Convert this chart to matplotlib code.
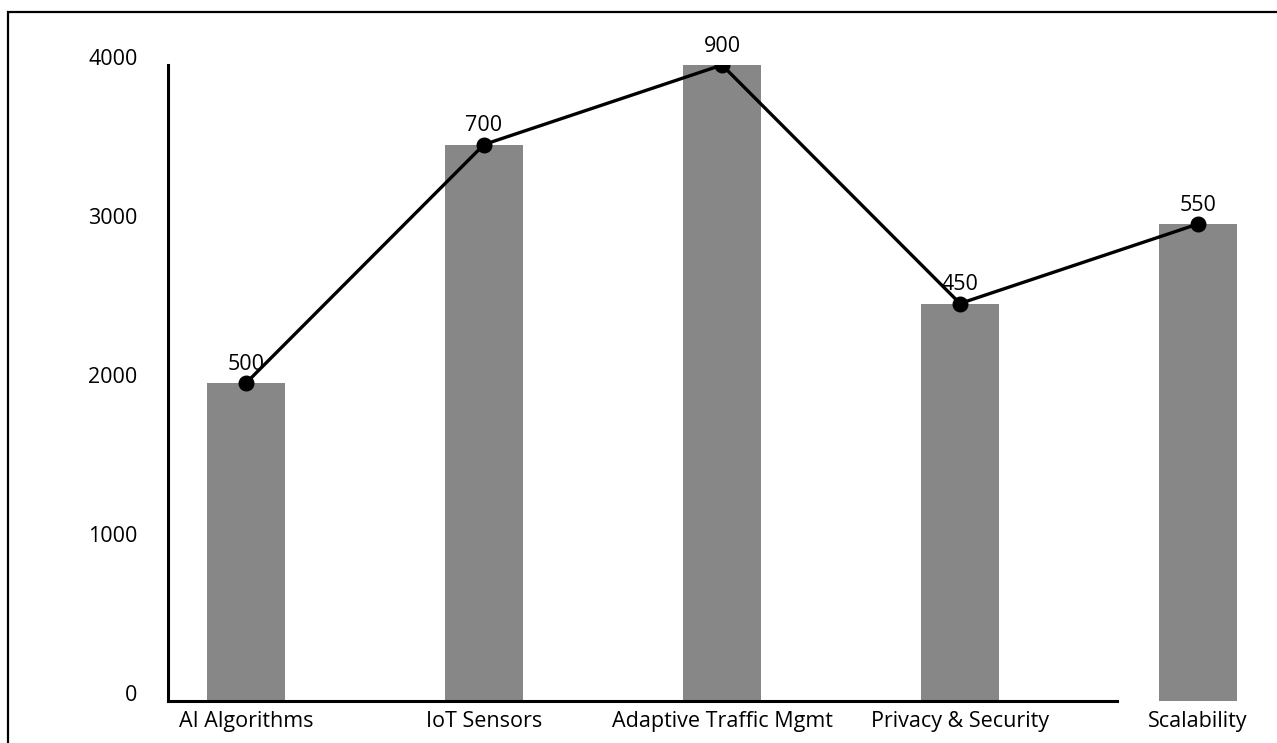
import matplotlib
matplotlib.use("Agg")
import matplotlib.pyplot as plt
import matplotlib.transforms as mtransforms
from matplotlib.patches import Rectangle

categories = ["AI Algorithms", "IoT Sensors", "Adaptive Traffic Mgmt",
              "Privacy & Security", "Scalability"]
bar_values = [2000, 3500, 4000, 2500, 3000]
point_labels = [500, 700, 900, 450, 550]
y_ticks = [0, 1000, 2000, 3000, 4000]

plt.rcParams["font.family"] = ["Open Sans", "DejaVu Sans"]

W, H = 1277, 743
fig = plt.figure(figsize=(W / 100, H / 100), dpi=100)
ax = fig.add_axes([168 / W, 42 / H, (W - 168) / W, 636 / H])

x = list(range(len(categories)))
ax.bar(x, bar_values, width=0.33, color="#878787", zorder=1)
ax.plot(x, bar_values, color="black", lw=2.4, marker="o", markersize=10.5, zorder=3)
for xi, yi, lab in zip(x, bar_values, point_labels):
    ax.annotate(str(lab), (xi, yi), xytext=(0, 6), textcoords="offset points",
                ha="center", va="bottom", fontsize=15.5)

ax.set_xlim(-0.328, 4.332)
ax.set_ylim(0, 4000)
ax.set_yticks(y_ticks)
ax.set_yticklabels([str(v) for v in y_ticks], fontsize=15.5)
ax.set_xticks(x)
ax.set_xticklabels(categories, fontsize=15.5)
ax.tick_params(axis="both", length=0)
ax.tick_params(axis="y", pad=22)
ax.tick_params(axis="x", pad=7)
shift = mtransforms.ScaledTranslation(0, 8 / 100, fig.dpi_scale_trans)
for lbl in ax.get_yticklabels():
    lbl.set_transform(lbl.get_transform() + shift)

for s in ("top", "right"):
    ax.spines[s].set_visible(False)
ax.spines["left"].set_linewidth(2.2)
ax.spines["bottom"].set_linewidth(2.2)
ax.spines["bottom"].set_bounds(-0.328, 3.66)

fig.patches.append(Rectangle((8 / W, -0.1), 1.2, (H - 12) / H + 0.1,
                             transform=fig.transFigure, fill=False,
                             edgecolor="black", lw=1.6))

fig.savefig("out.png", dpi=100)
